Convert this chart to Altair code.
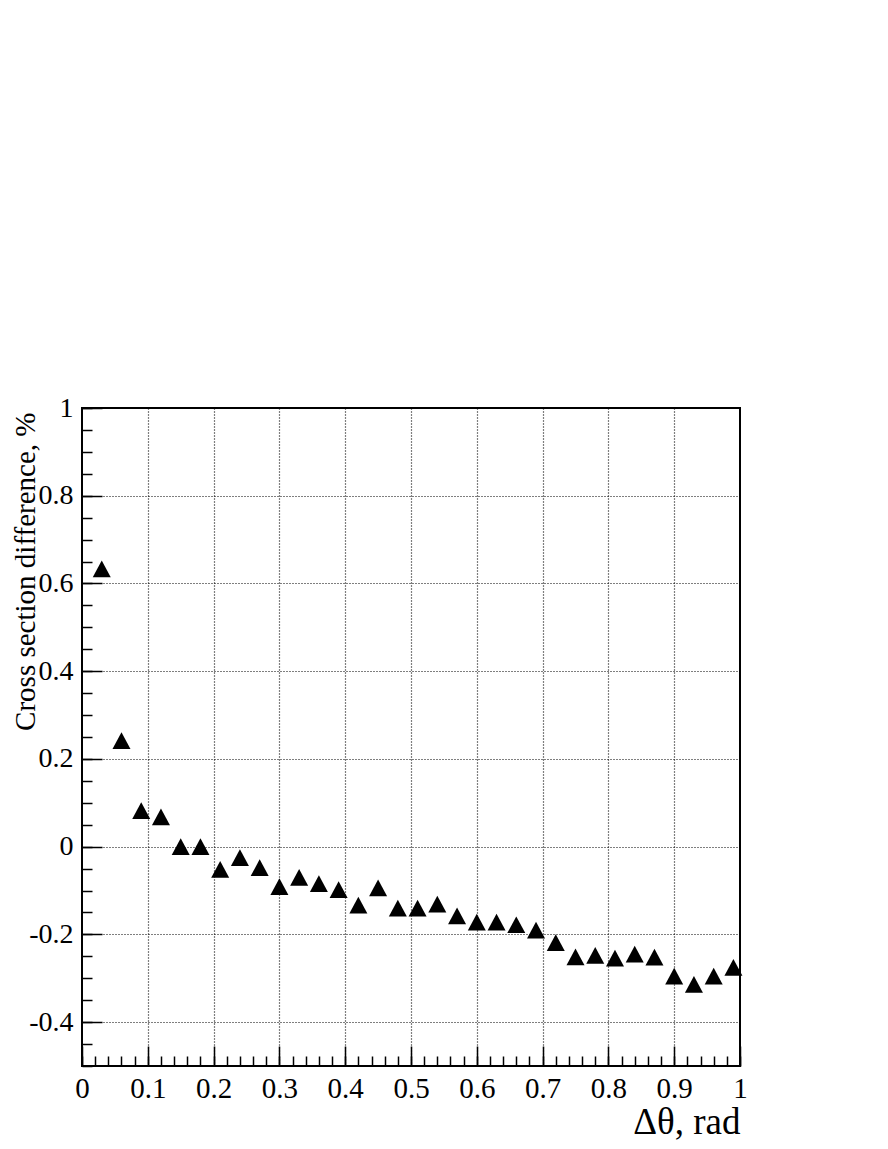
import altair as alt
import pandas as pd

# Data
dtheta = [0.03, 0.06, 0.09, 0.12, 0.15, 0.18, 0.21, 0.24, 0.27, 0.30, 0.33,
          0.36, 0.39, 0.42, 0.45, 0.48, 0.51, 0.54, 0.57, 0.60, 0.63, 0.66,
          0.69, 0.72, 0.75, 0.78, 0.81, 0.84, 0.87, 0.90, 0.93, 0.96, 0.99]
diff = [0.633, 0.242, 0.082, 0.068, 0.0, 0.0, -0.052, -0.025, -0.048, -0.091,
        -0.070, -0.084, -0.098, -0.133, -0.094, -0.140, -0.140, -0.131, -0.158,
        -0.172, -0.172, -0.178, -0.190, -0.219, -0.251, -0.248, -0.254, -0.245,
        -0.252, -0.295, -0.314, -0.295, -0.275]

# Tick labels
x_major = [0, 0.1, 0.2, 0.3, 0.4, 0.5, 0.6, 0.7, 0.8, 0.9, 1.0]
x_minor = [round(0.02 * i, 2) for i in range(51)]
y_major = [-0.4, -0.2, 0, 0.2, 0.4, 0.6, 0.8, 1.0]
y_minor = [round(-0.5 + 0.05 * i, 2) for i in range(31)]
x_grid = x_major[1:-1]
y_grid = y_major[:-1]

df = pd.DataFrame({"x": dtheta, "y": diff})

FONT = "Liberation Serif"
xs = alt.Scale(domain=[0, 1], nice=False, zero=False)
ys = alt.Scale(domain=[-0.5, 1], nice=False, zero=False)
lab = "'' + round(datum.value*10)/10"

base = alt.Chart(df)

grid_layer = base.mark_point(opacity=0).encode(
    x=alt.X("x:Q", scale=xs, axis=alt.Axis(orient="bottom", grid=True, values=x_grid,
            gridDash=[1, 2], gridColor="black", gridWidth=1.2, gridOpacity=1,
            domain=False, ticks=False, labels=False, title=None)),
    y=alt.Y("y:Q", scale=ys, axis=alt.Axis(orient="left", grid=True, values=y_grid,
            gridDash=[1, 2], gridColor="black", gridWidth=1.2, gridOpacity=1,
            domain=False, ticks=False, labels=False, title=None)),
)

major_layer = base.mark_point(opacity=0).encode(
    x=alt.X("x:Q", scale=xs, axis=alt.Axis(orient="bottom", grid=False, values=x_major,
            offset=-20, tickSize=20, tickColor="black", tickWidth=1.5, domain=False,
            labels=False, title=None)),
    y=alt.Y("y:Q", scale=ys, axis=alt.Axis(orient="left", grid=False, values=y_major,
            offset=-20, tickSize=20, tickColor="black", tickWidth=1.5, domain=False,
            labels=False, title=None)),
)

minor_layer = base.mark_point(opacity=0).encode(
    x=alt.X("x:Q", scale=xs, axis=alt.Axis(orient="bottom", grid=False, values=x_minor,
            offset=-10, tickSize=10, tickColor="black", tickWidth=1.5, domain=False,
            labels=False, title=None)),
    y=alt.Y("y:Q", scale=ys, axis=alt.Axis(orient="left", grid=False, values=y_minor,
            offset=-10, tickSize=10, tickColor="black", tickWidth=1.5, domain=False,
            labels=False, title=None)),
)

points = base.mark_point(
    shape="M0,-0.93L1,0.93L-1,0.93Z", filled=True, color="black", opacity=1, size=324
).encode(
    x=alt.X("x:Q", scale=xs, axis=alt.Axis(
        orient="bottom", grid=False, values=x_major, ticks=False, tickSize=0,
        domain=False, labelExpr=lab, labelFont=FONT, labelFontSize=29,
        labelColor="black", labelPadding=8, labelFlush=False, labelOverlap=False,
        title="Δθ, rad", titleFont=FONT, titleFontSize=37, titleFontWeight="normal",
        titleColor="black", titleX=658, titleY=67, titleAlign="right",
        titleBaseline="alphabetic", titleAnchor="end")),
    y=alt.Y("y:Q", scale=ys, axis=alt.Axis(
        orient="left", grid=False, values=y_major, ticks=False, tickSize=0,
        domain=False, labelExpr=lab, labelFont=FONT, labelFontSize=28,
        labelColor="black", labelPadding=9, labelFlush=False, labelOverlap=False,
        title="Cross section difference, %", titleFont=FONT, titleFontSize=29,
        titleFontWeight="normal", titleColor="black", titleX=-48, titleY=4,
        titleAngle=270, titleAlign="right", titleBaseline="alphabetic",
        titleAnchor="end")),
)

chart = alt.layer(grid_layer, major_layer, minor_layer, points).resolve_axis(
    x="independent", y="independent"
).properties(
    width=658, height=658,
    autosize=alt.AutoSizeParams(type="none"),
    padding={"left": 74, "top": 400, "right": 140, "bottom": 75},
    background="white",
).configure_view(stroke="black", strokeWidth=2)

chart.save("out.html", embed_options={"renderer": "svg", "actions": False})
